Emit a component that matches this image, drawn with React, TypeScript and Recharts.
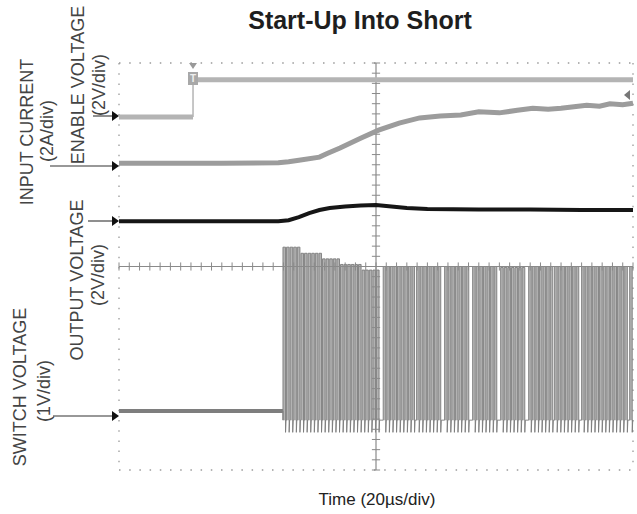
import React from 'react';
import { ComposedChart, Line, Area, XAxis, YAxis, CartesianGrid, ReferenceLine } from 'recharts';

// scope screen: x in µs (20µs/div, 10 div), y in divisions (8 div, 0 = bottom)
const MAJOR_X = [0, 20, 40, 60, 80, 100, 120, 140, 160, 180, 200];
const MAJOR_Y = [0, 1, 2, 3, 4, 5, 6, 7, 8];
const MINOR_X = Array.from({ length: 51 }, (_, i) => i * 4);
const MINOR_Y = Array.from({ length: 41 }, (_, i) => +(i * 0.2).toFixed(1));

// enable voltage (2V/div)
const EN_STEP = 28.8;
const EN_LOW = 6.94;
const EN_HIGH = 7.67;

// input current (2A/div)
const T_CURRENT = [0, 40, 62, 66, 70, 78, 81, 86, 94, 101, 109, 117, 125, 133, 140, 148, 155, 161, 167, 172, 177, 182, 187, 191, 196, 200];
const V_CURRENT = [6.03, 6.03, 6.04, 6.06, 6.09, 6.15, 6.22, 6.33, 6.52, 6.68, 6.82, 6.92, 6.96, 6.98, 7.04, 7.02, 7.07, 7.11, 7.09, 7.11, 7.14, 7.17, 7.15, 7.2, 7.18, 7.21];

// output voltage (2V/div)
const T_OUTPUT = [0, 62, 66, 70, 74, 78, 82, 88, 94, 100, 106, 112, 120, 140, 160, 180, 200];
const V_OUTPUT = [4.89, 4.89, 4.91, 4.97, 5.05, 5.11, 5.15, 5.18, 5.2, 5.21, 5.18, 5.15, 5.13, 5.12, 5.12, 5.11, 5.11];

// switch voltage (1V/div)
const SW_IDLE = 1.16;
const SW_START = 63.8;
const SW_LOW = 0.98;
const SW_UNDER = 0.74;
const SW_PERIOD = 1.4;
const SW_ON = 1.0;
const BURST_START = [63.8, 70, 78, 86, 94, 102.8, 115.8, 126.7, 137.6, 148.5, 159.4, 169.5, 180, 189.7, 198.7];
const BURST_END = [70, 78, 86, 94, 101.2, 114.6, 125.5, 136.4, 147.3, 158.2, 168.3, 178.8, 188.5, 197.5, 200];
const BURST_TOP = [4.38, 4.26, 4.15, 4.04, 3.93, 4.0, 4.0, 4.0, 4.0, 3.98, 4.0, 4.0, 4.0, 4.0, 4.0];

const pts = (ts: number[], vs: number[]) => ts.map((t, i) => ({ t, v: vs[i] }));

const enableLow = [{ t: 0, v: EN_LOW }, { t: EN_STEP, v: EN_LOW }];
const enableStep = [{ t: EN_STEP, v: EN_LOW }, { t: EN_STEP, v: EN_HIGH }];
const enableHigh = [{ t: EN_STEP, v: EN_HIGH }, { t: 200, v: EN_HIGH }];
const currentData = pts(T_CURRENT, V_CURRENT);
const outputData = pts(T_OUTPUT, V_OUTPUT);
const idleData = [{ t: 0, v: SW_IDLE }, { t: SW_START, v: SW_IDLE }];

// pulses keep their phase across touching bursts, skipped pulses leave the gaps
const switchData: { t: number; v: number }[] = [{ t: SW_START, v: SW_IDLE }];
let next = 0;
BURST_START.forEach((s, b) => {
  let t = s <= next + 0.01 ? next : s;
  for (; t < BURST_END[b] - 0.01; t += SW_PERIOD) {
    switchData.push(
      { t, v: SW_LOW },
      { t, v: BURST_TOP[b] },
      { t: t + SW_ON, v: BURST_TOP[b] },
      { t: t + SW_ON, v: SW_UNDER },
      { t: t + SW_ON + 0.2, v: SW_LOW },
    );
  }
  next = t;
});
switchData.push({ t: 200, v: SW_LOW });

const W = 637;
const H = 514;
const font = '"Liberation Sans", Arial, sans-serif';

function VLabel({ x, y, text }: { x: number; y: number; text: string }) {
  return (
    <text x={x} y={y} transform={`rotate(-90 ${x} ${y})`} textAnchor="middle" dominantBaseline="central"
          fontSize={18} fill="#444" fontFamily={font}>{text}</text>
  );
}

function Arrow({ y, from }: { y: number; from: number }) {
  return (
    <g>
      <line x1={from} y1={y} x2={113} y2={y} stroke="#333" strokeWidth={1.1} />
      <polygon points={`112,${y - 5} 119,${y} 112,${y + 5}`} fill="#111" />
    </g>
  );
}

const flat = { type: 'linear' as const, dot: false, activeDot: false, isAnimationActive: false };

export default function App() {
  return (
    <div style={{ position: 'absolute', left: 0, top: 0, width: W, height: H, background: '#fff' }}>
      <ComposedChart width={W} height={H} margin={{ top: 63, right: 4, bottom: 44, left: 119 }}>
        <CartesianGrid stroke="#9a9a9a" strokeDasharray="1.5 8.7" strokeWidth={1.3} />
        <XAxis dataKey="t" type="number" domain={[0, 200]} ticks={MAJOR_X} height={0} tick={false}
               tickLine={false} axisLine={{ stroke: '#6a6a6a', strokeWidth: 1.6 }} />
        <XAxis xAxisId="bm" type="number" domain={[0, 200]} ticks={MINOR_X} height={0} tick={false}
               mirror tickSize={5} tickLine={{ stroke: '#777' }} axisLine={false} />
        <XAxis xAxisId="top" orientation="top" type="number" domain={[0, 200]} ticks={MINOR_X} height={0}
               tick={false} mirror tickSize={5} tickLine={{ stroke: '#777' }}
               axisLine={{ stroke: '#6a6a6a', strokeWidth: 1.6 }} />
        <YAxis type="number" domain={[0, 8]} ticks={MAJOR_Y} width={0} tick={false} tickLine={false}
               axisLine={{ stroke: '#6a6a6a', strokeWidth: 1.6 }} />
        <YAxis yAxisId="lm" type="number" domain={[0, 8]} ticks={MINOR_Y} width={0} tick={false}
               mirror tickSize={5} tickLine={{ stroke: '#777' }} axisLine={false} />
        <YAxis yAxisId="right" orientation="right" type="number" domain={[0, 8]} ticks={MINOR_Y} width={0}
               tick={false} mirror tickSize={5} tickLine={{ stroke: '#777' }}
               axisLine={{ stroke: '#6a6a6a', strokeWidth: 1.6 }} />

        <ReferenceLine x={100} stroke="#8a8a8a" strokeWidth={1.2} />
        <ReferenceLine y={4} stroke="#8a8a8a" strokeWidth={1.2} />
        {MINOR_Y.map((v) => (
          <ReferenceLine key={'cy' + v} segment={[{ x: 98.4, y: v }, { x: 101.6, y: v }]} stroke="#8a8a8a" />
        ))}
        {MINOR_X.map((t) => (
          <ReferenceLine key={'cx' + t} segment={[{ x: t, y: 3.92 }, { x: t, y: 4.08 }]} stroke="#8a8a8a" />
        ))}

        <Area data={switchData} dataKey="v" baseValue={SW_LOW} stroke="#7c7c7c" strokeWidth={0.9}
              fill="#a0a0a0" fillOpacity={0.8} {...flat} />
        <Line data={idleData} dataKey="v" stroke="#7e7e7e" strokeWidth={4} {...flat} />
        <Line data={enableLow} dataKey="v" stroke="#b4b4b4" strokeWidth={5} {...flat} />
        <Line data={enableStep} dataKey="v" stroke="#b4b4b4" strokeWidth={1.5} {...flat} />
        <Line data={enableHigh} dataKey="v" stroke="#b4b4b4" strokeWidth={5} {...flat} />
        <Line data={currentData} dataKey="v" stroke="#9c9c9c" strokeWidth={5} {...flat} />
        <Line data={outputData} dataKey="v" stroke="#161616" strokeWidth={4} {...flat} />
      </ComposedChart>

      <svg width={W} height={H} style={{ position: 'absolute', left: 0, top: 0, pointerEvents: 'none' }}>
        <text x={360} y={29} textAnchor="middle" fontSize={25} fontWeight="bold" fill="#1e1e1e" fontFamily={font}>
          Start-Up Into Short
        </text>
        <text x={377} y={505} textAnchor="middle" fontSize={17} fill="#222" fontFamily={font}>
          Time (20µs/div)
        </text>

        <VLabel x={27} y={132} text="INPUT CURRENT" />
        <VLabel x={47} y={131} text="(2A/div)" />
        <VLabel x={78} y={85} text="ENABLE VOLTAGE" />
        <VLabel x={99} y={85} text="(2V/div)" />
        <VLabel x={77} y={280} text="OUTPUT VOLTAGE" />
        <VLabel x={98} y={275} text="(2V/div)" />
        <VLabel x={20} y={387} text="SWITCH VOLTAGE" />
        <VLabel x={44} y={391} text="(1V/div)" />

        <Arrow y={116} from={93} />
        <Arrow y={166} from={50} />
        <Arrow y={221} from={88} />
        <Arrow y={416} from={53} />

        <polygon points="189,63 197,63 193,69" fill="#999" />
        <rect x={188} y={72} width={10} height={13} fill="#a8a8a8" />
        <text x={193} y={82} textAnchor="middle" fontSize={10} fontWeight="bold" fill="#eee" fontFamily={font}>T</text>
        <polygon points="624,95 630,90 630,100" fill="#777" />
      </svg>
    </div>
  );
}
